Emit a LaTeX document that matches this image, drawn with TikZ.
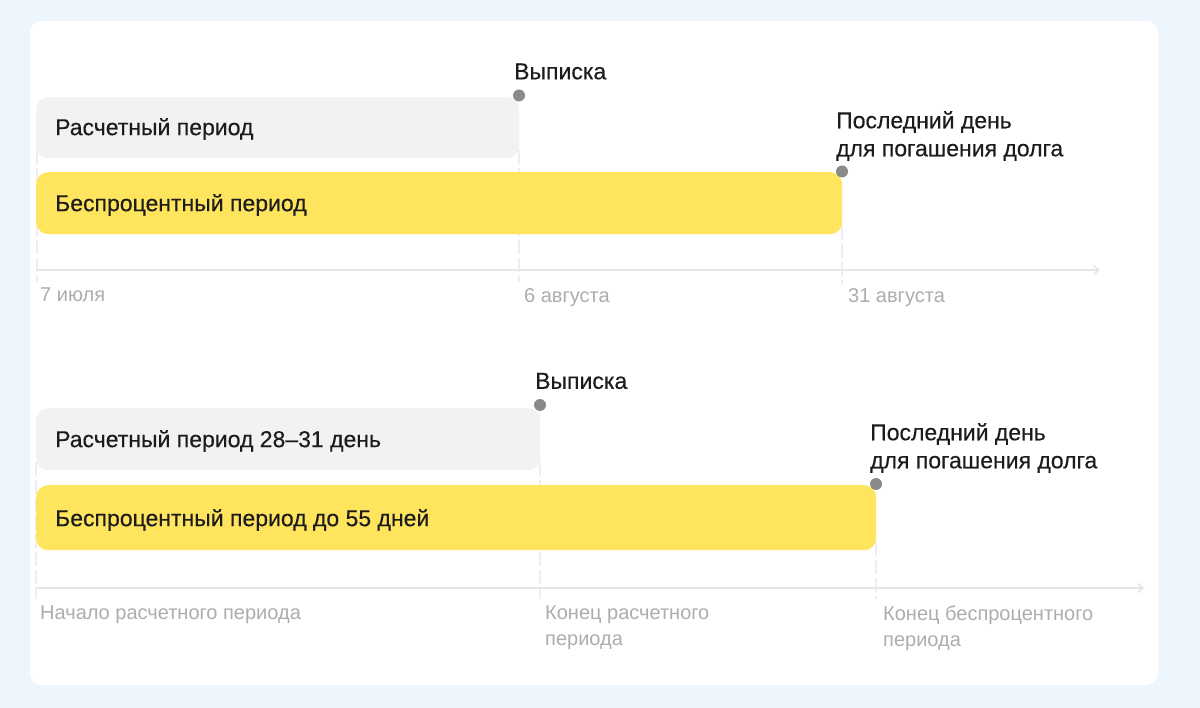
\documentclass[tikz,border=0pt]{standalone}
\usepackage{fontspec}
\setmainfont{Liberation Sans}
\newfontfamily\darkfont[FakeBold=0.35]{Liberation Sans}
\usetikzlibrary{arrows.meta}
\definecolor{bgblue}{HTML}{EEF6FD}
\definecolor{barGray}{HTML}{F2F2F3}
\definecolor{barYellow}{HTML}{FFE45E}
\definecolor{dotGray}{HTML}{8A8A8A}
\definecolor{axisGray}{HTML}{E6E6E8}
\definecolor{tickGray}{HTML}{EEEEF0}
\definecolor{labelGray}{HTML}{ADADAD}
\definecolor{textDark}{HTML}{1C1C1C}
\begin{document}
\begin{tikzpicture}[x=1pt,y=-1pt,
  barbox/.style={rounded corners=12pt, draw=none, inner sep=0pt, anchor=north west},
  graybar/.style={barbox, fill=barGray},
  yellowbar/.style={barbox, fill=barYellow},
  bartext/.style={anchor=west, inner sep=0pt, text=textDark, font=\darkfont\fontsize{23}{27}\selectfont},
  marktext/.style={anchor=west, inner sep=0pt, text=textDark, align=left, font=\darkfont\fontsize{23}{28}\selectfont},
  dotmark/.style={circle, fill=dotGray, inner sep=0pt, minimum size=12pt},
  datelabel/.style={anchor=north west, inner sep=0pt, text=labelGray, align=left, font=\fontsize{20}{26}\selectfont},
  axisline/.style={draw=axisGray, line width=1.6pt, -{Straight Barb[length=5pt,width=9pt]}},
  tickline/.style={draw=tickGray, line width=1.3pt, dash pattern=on 14pt off 4pt}
]
\useasboundingbox (0,0) rectangle (1200,708);
\fill[bgblue] (0,0) rectangle (1200,708);
\fill[white, rounded corners=12pt] (30,21) rectangle (1158,685);

% ---------- top timeline ----------
\coordinate (a1s) at (36,270);
\coordinate (a1e) at (1100,270);
\coordinate (t1a) at (37,150);
\coordinate (t1ab) at (37,282);
\coordinate (t1b) at (519,150);
\coordinate (t1bb) at (519,282);
\coordinate (t1c) at (842,226);
\coordinate (t1cb) at (842,284);
\draw[tickline] (t1a) -- (t1ab);
\draw[tickline] (t1b) -- (t1bb);
\draw[tickline] (t1c) -- (t1cb);
\draw[axisline] (a1s) -- (a1e);

\node[graybar, minimum width=483pt, minimum height=61pt] (g1) at (36,97) {};
\node[yellowbar, minimum width=806pt, minimum height=62pt] (y1) at (36,172) {};
\node[bartext] (g1t) at (55,129) {Расчетный период};
\node[bartext] (y1t) at (55,205) {Беспроцентный период};

\node[dotmark] (d1) at (519,95.5) {};
\node[dotmark] (d2) at (842,171.5) {};
\node[marktext] (m1) at (514,71.5) {Выписка};
\node[marktext, anchor=north west] (m2) at (836,111) {Последний день\\для погашения долга};

\node[datelabel] (l1) at (40,288) {7 июля};
\node[datelabel] (l2) at (524,288) {6 августа};
\node[datelabel] (l3) at (848,288) {31 августа};

% ---------- bottom timeline ----------
\coordinate (a2s) at (36,588);
\coordinate (a2e) at (1144,588);
\coordinate (t2a) at (36,462);
\coordinate (t2ab) at (36,599);
\coordinate (t2b) at (540,462);
\coordinate (t2bb) at (540,599);
\coordinate (t2c) at (876,542);
\coordinate (t2cb) at (876,599);
\draw[tickline] (t2a) -- (t2ab);
\draw[tickline] (t2b) -- (t2bb);
\draw[tickline] (t2c) -- (t2cb);
\draw[axisline] (a2s) -- (a2e);

\node[graybar, minimum width=504pt, minimum height=62pt] (g2) at (36,408) {};
\node[yellowbar, minimum width=840pt, minimum height=65pt] (y2) at (36,485) {};
\node[bartext] (g2t) at (55,441) {Расчетный период 28–31 день};
\node[bartext] (y2t) at (55,520) {Беспроцентный период до 55 дней};

\node[dotmark] (d3) at (540,405) {};
\node[dotmark] (d4) at (876,484) {};
\node[marktext] (m3) at (535,381) {Выписка};
\node[marktext, anchor=north west] (m4) at (870,423) {Последний день\\для погашения долга};

\node[datelabel] (l4) at (40,606) {Начало расчетного периода};
\node[datelabel] (l5) at (545,606) {Конец расчетного\\периода};
\node[datelabel] (l6) at (883,606) {Конец беспроцентного\\периода};
\end{tikzpicture}
\end{document}
